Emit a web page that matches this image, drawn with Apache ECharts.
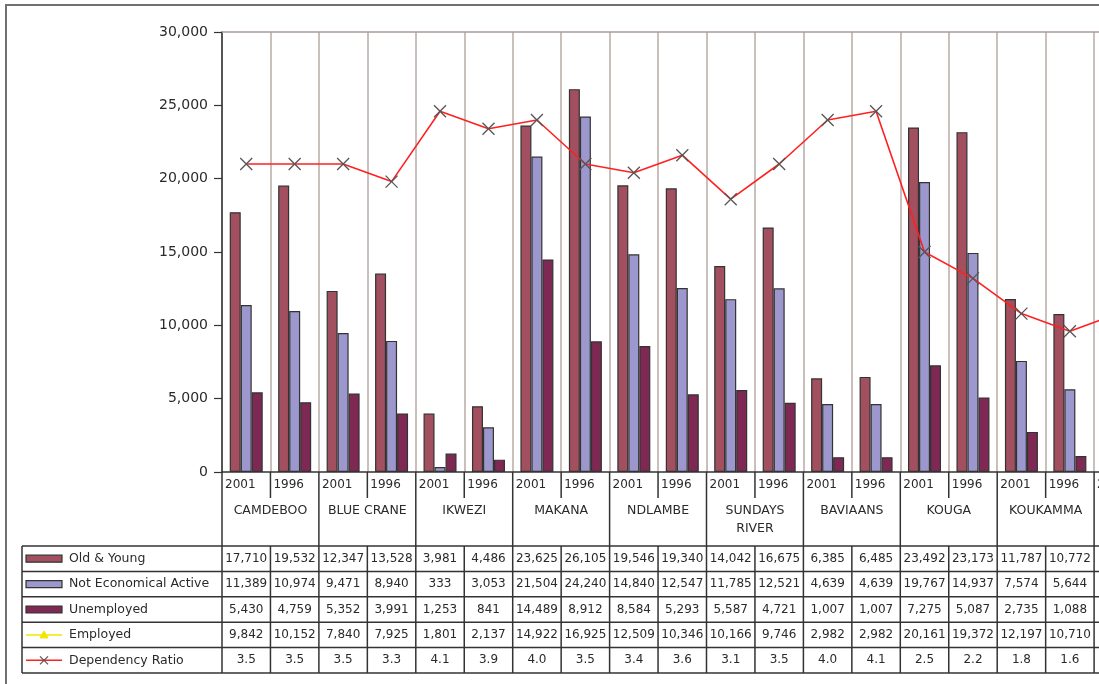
<!DOCTYPE html>
<html>
<head>
<meta charset="utf-8">
<script src="https://cdn.jsdelivr.net/npm/echarts@6/dist/echarts.min.js"></script>
<style>
  html, body { margin: 0; padding: 0; background: #fff; overflow: hidden; width: 1099px; height: 684px; }
  #chart { width: 1180px; height: 684px; }
</style>
</head>
<body>
<div id="chart"></div>
<script>
// Population by economic status, Cacadu municipalities, 2001 vs 1996
const years = ['2001','1996','2001','1996','2001','1996','2001','1996','2001','1996',
               '2001','1996','2001','1996','2001','1996','2001','1996','2001'];
const municipalities = ['CAMDEBOO','BLUE CRANE','IKWEZI','MAKANA','NDLAMBE',
                        'SUNDAYS\nRIVER','BAVIAANS','KOUGA','KOUKAMMA',''];
const oldYoung      = [17710,19532,12347,13528,3981,4486,23625,26105,19546,19340,14042,16675,6385,6485,23492,23173,11787,10772,null];
const notEconActive = [11389,10974,9471,8940,333,3053,21504,24240,14840,12547,11785,12521,4639,4639,19767,14937,7574,5644,null];
const unemployed    = [5430,4759,5352,3991,1253,841,14489,8912,8584,5293,5587,4721,1007,1007,7275,5087,2735,1088,null];
const employed      = [9842,10152,7840,7925,1801,2137,14922,16925,12509,10346,10166,9746,2982,2982,20161,19372,12197,10710,null];
const dependencyRatio = [3.5,3.5,3.5,3.3,4.1,3.9,4.0,3.5,3.4,3.6,3.1,3.5,4.0,4.1,2.5,2.2,1.8,1.6,1.8];
const seriesNames = ['Old & Young','Not Economical Active','Unemployed','Employed','Dependency Ratio'];
const yMax = 30000, yStep = 5000;
const ratioMax = 5;

const colors = { oldYoung: '#a24f5f', nea: '#9c97cd', unemployed: '#7e2953', employed: '#f2e600', ratio: '#ff2020' };
const FONT = 'DejaVu Sans';
const TEXT = '#2a2a2a';
const BAND = 48.45;

const chart = echarts.init(document.getElementById('chart'));

const barStyle = c => ({ color: c, borderColor: '#333', borderWidth: 1.2 });
const crossPath = 'path://M0,0L10,10M10,0L0,10';

chart.setOption({
  animation: false,
  grid: { left: 222, top: 32, height: 440, width: BAND * years.length },
  xAxis: {
    type: 'category', data: years,
    axisLine: { show: true, lineStyle: { color: '#333', width: 1.5 } },
    axisTick: { show: false },
    axisLabel: { show: false },
    splitLine: { show: true, lineStyle: { color: '#b7aba5', width: 1.5 } }
  },
  yAxis: [{
    type: 'value', min: 0, max: yMax, interval: yStep,
    axisLine: { show: true, lineStyle: { color: '#333', width: 1.5 } },
    axisTick: { show: true, length: 8, lineStyle: { color: '#333', width: 1.2 } },
    axisLabel: { color: TEXT, fontFamily: FONT, fontSize: 14, margin: 14,
                 formatter: v => v.toLocaleString('en-US') },
    splitLine: { show: false }
  }, {
    type: 'value', min: 0, max: ratioMax, show: false, splitLine: { show: false }
  }],
  series: [
    { name: seriesNames[0], type: 'bar', data: oldYoung, barWidth: 11, barGap: '0%', itemStyle: barStyle(colors.oldYoung) },
    { name: seriesNames[1], type: 'bar', data: notEconActive, barWidth: 11, barGap: '0%', itemStyle: barStyle(colors.nea) },
    { name: seriesNames[2], type: 'bar', data: unemployed, barWidth: 11, barGap: '0%', itemStyle: barStyle(colors.unemployed) },
    { name: seriesNames[4], type: 'line', yAxisIndex: 1, data: dependencyRatio, z: 5,
      symbol: crossPath, symbolSize: 12, clip: false,
      lineStyle: { color: colors.ratio, width: 1.6 },
      itemStyle: { color: '#555', borderColor: '#555', borderWidth: 1.3 } }
  ]
});

// Axis category labels, frame and data table, laid out from the axis scale
const X = i => chart.convertToPixel({ xAxisIndex: 0 }, i);
const Y = v => chart.convertToPixel({ yAxisIndex: 0 }, v);
const band = X(1) - X(0);
const edge = i => X(i) - band / 2;
const y0 = Y(0), yTop = Y(yMax);
const N = years.length;
const tableTop = 546, rowH = 25.4, tableLeft = 22;
const tableBottom = tableTop + rowH * 5;
const farRight = 1400;

const g = [];
const line = (x1, y1, x2, y2, stroke, w) => g.push({
  type: 'line', silent: true, z: 10,
  shape: { x1, y1, x2, y2 }, style: { stroke, lineWidth: w }
});
const text = (x, y, t, opt) => g.push({
  type: 'text', silent: true, z: 11, x, y,
  style: Object.assign({ text: t, fill: TEXT, font: '12px "' + FONT + '"',
                         align: 'center', verticalAlign: 'middle' }, opt || {})
});

// outer frame
g.push({ type: 'rect', silent: true, z: 1, shape: { x: 6, y: 5, width: 1400, height: 700 },
         style: { fill: 'none', stroke: '#707070', lineWidth: 2 } });
// top edge of plot area
line(edge(0), yTop, farRight, yTop, '#a89c97', 1.5);

// category dividers below the axis
line(edge(0), y0, edge(0), tableBottom, '#333', 1.5);
for (let i = 1; i <= N; i++) {
  const x = edge(i);
  if (i % 2 === 0) line(x, y0, x, tableTop, '#333', 1.5);
  else line(x, y0, x, y0 + 26, '#333', 1.5);
}
// year labels
years.forEach((yr, i) => text(edge(i) + 3, y0 + 13, yr, { align: 'left' }));
// municipality names, one per pair of years
municipalities.forEach((m, k) => {
  const cx = edge(2 * k + 1);
  text(cx, y0 + 30, m, { font: '12.5px "' + FONT + '"', verticalAlign: 'top', lineHeight: 18 });
});

// data table grid
for (let r = 0; r <= 5; r++) line(tableLeft, tableTop + r * rowH, farRight, tableTop + r * rowH, '#333', 1.5);
line(tableLeft, tableTop, tableLeft, tableBottom, '#333', 1.5);
for (let i = 1; i <= N; i++) line(edge(i), tableTop, edge(i), tableBottom, '#333', 1.5);

// table rows: key, name and values
const rows = [
  { vals: oldYoung, fmt: v => v.toLocaleString('en-US'), key: 'bar', color: colors.oldYoung },
  { vals: notEconActive, fmt: v => v.toLocaleString('en-US'), key: 'bar', color: colors.nea },
  { vals: unemployed, fmt: v => v.toLocaleString('en-US'), key: 'bar', color: colors.unemployed },
  { vals: employed, fmt: v => v.toLocaleString('en-US'), key: 'tri', color: colors.employed },
  { vals: dependencyRatio, fmt: v => v.toFixed(1), key: 'cross', color: colors.ratio }
];
rows.forEach((row, r) => {
  const cy = tableTop + r * rowH + rowH / 2;
  if (row.key === 'bar') {
    g.push({ type: 'rect', silent: true, z: 11, shape: { x: 26, y: cy - 3.5, width: 36, height: 7 },
             style: { fill: row.color, stroke: '#333', lineWidth: 1.2 } });
  } else {
    line(26, cy, 62, cy, row.color, 1.5);
    if (row.key === 'tri') {
      g.push({ type: 'polygon', silent: true, z: 12,
               shape: { points: [[44, cy - 4], [40, cy + 3], [48, cy + 3]] },
               style: { fill: row.color, stroke: row.color } });
    } else {
      line(40, cy - 4, 48, cy + 4, '#555', 1.2);
      line(40, cy + 4, 48, cy - 4, '#555', 1.2);
    }
  }
  text(69, cy, seriesNames[r], { align: 'left', font: '12.5px "' + FONT + '"' });
  row.vals.forEach((v, i) => {
    if (v == null || oldYoung[i] == null) return;
    text(X(i), cy, row.fmt(v));
  });
});

chart.setOption({ graphic: g });
</script>
</body>
</html>
